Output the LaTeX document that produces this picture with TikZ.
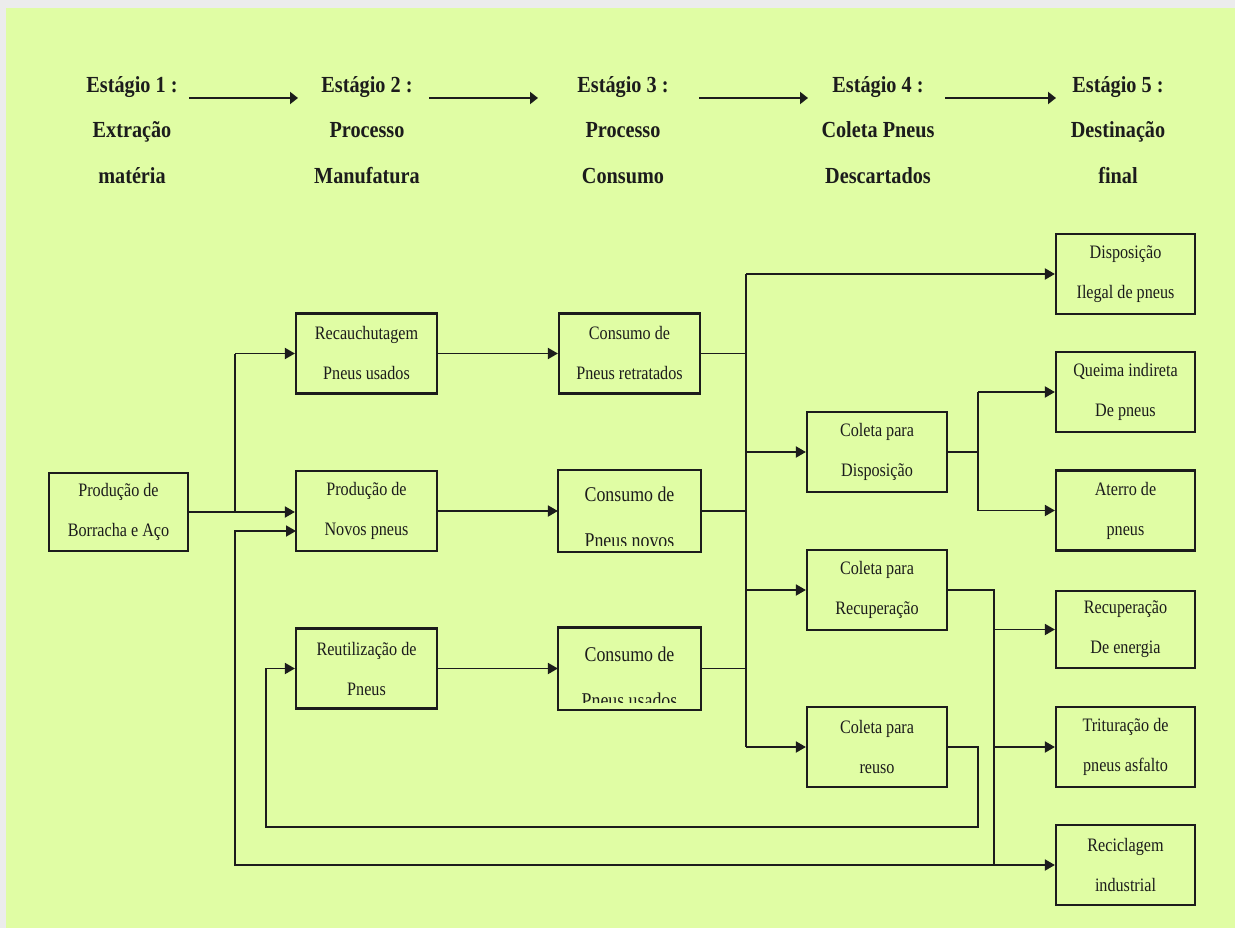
\documentclass[tikz,border=0pt]{standalone}
\usepackage{fontspec}
\setmainfont{Liberation Serif}[FakeStretch=0.85]
\newfontfamily\hdrfont{Liberation Serif}[FakeStretch=0.88]
\usetikzlibrary{arrows.meta}
\definecolor{bg}{RGB}{224,253,164}
\definecolor{ink}{RGB}{28,28,28}
\definecolor{edge}{RGB}{236,236,236}
\begin{document}
\begin{tikzpicture}[x=1pt,y=-1pt,
  box/.style={draw=ink, line width=2.2pt, minimum width=141pt, minimum height=80pt, inner sep=0pt, align=center,
              font=\fontsize{19}{40}\selectfont, text=ink},
  txt/.style={inner sep=0pt, anchor=base, font=\fontsize{21}{46}\selectfont, text=ink},
  hdr/.style={align=center, inner sep=0pt, font=\hdrfont\bfseries\fontsize{23}{45.5}\selectfont, text=ink},
  conn/.style={draw=ink, line width=1.8pt},
  arr/.style={conn, -{Triangle[length=10pt,width=11pt]}},
  harr/.style={draw=ink, line width=2.6pt, -{Triangle[length=8pt,width=12pt]}}]
\useasboundingbox (0,0) rectangle (1235,928);
\fill[edge] (0,0) rectangle (1235,928);
\fill[bg] (6,8) rectangle (1235,928);

% headers
\node[hdr] (h1) at (132,130) {Estágio 1 :\\Extração\\matéria};
\node[hdr] (h2) at (367,130) {Estágio 2 :\\Processo\\Manufatura};
\node[hdr] (h3) at (623,130) {Estágio 3 :\\Processo\\Consumo};
\node[hdr] (h4) at (878,130) {Estágio 4 :\\Coleta Pneus\\Descartados};
\node[hdr] (h5) at (1118,130) {Estágio 5 :\\Destinação\\final};
\coordinate (a1) at (189,98); \coordinate (b1) at (298,98);
\coordinate (a2) at (429,98); \coordinate (b2) at (538,98);
\coordinate (a3) at (699,98); \coordinate (b3) at (808,98);
\coordinate (a4) at (945,98); \coordinate (b4) at (1056,98);
\draw[harr] (a1) -- (b1);
\draw[harr] (a2) -- (b2);
\draw[harr] (a3) -- (b3);
\draw[harr] (a4) -- (b4);

% boxes
\node[box, minimum width=139pt, minimum height=78pt] (prod) at (118.5,512) {Produção de\\Borracha e Aço};
\node[box] (rec) at (366.5,353.5) {Recauchutagem\\Pneus usados};
\node[box] (nov) at (366.5,511) {Produção de\\Novos pneus};
\node[box] (reu) at (366.5,668.5) {Reutilização de\\Pneus};
\node[box] (cret) at (629.5,353.5) {Consumo de\\Pneus retratados};
\node[box, draw=none] (cnov) at (629.5,511) {};
\node[box, draw=none] (cusa) at (629.5,668.5) {};
\node[box, minimum width=140pt] (cdis) at (877,452) {Coleta para\\Disposição};
\node[box, minimum width=140pt] (crec) at (877,590) {Coleta para\\Recuperação};
\node[box, minimum width=140pt] (creu) at (877,747) {Coleta para\\reuso};
\node[box, minimum width=139pt] (dil) at (1125.5,274) {Disposição\\Ilegal de pneus};
\node[box, minimum width=139pt] (que) at (1125.5,392) {Queima indireta\\De pneus};
\node[box, minimum width=139pt] (ate) at (1125.5,510.5) {Aterro de\\pneus};
\node[box, minimum width=139pt, minimum height=77pt] (ren) at (1125.5,629.5) {Recuperação\\De energia};
\node[box, minimum width=139pt] (tri) at (1125.5,747) {Trituração de\\pneus asfalto};
\node[box, minimum width=139pt] (recl) at (1125.5,865) {Reciclagem\\industrial};

% clipped texts
\begin{scope}
\clip (cnov.north west) rectangle ([yshift=7pt]cnov.south east);
\node[txt] (cnovA) at (629.5,501) {Consumo de};
\node[txt] (cnovB) at (629.5,547) {Pneus novos};
\end{scope}
\draw[draw=ink, line width=2.2pt] (cnov.north west) rectangle (cnov.south east);
\begin{scope}
\clip (cusa.north west) rectangle ([yshift=7pt]cusa.south east);
\node[txt] (cusaA) at (629.5,661) {Consumo de};
\node[txt] (cusaB) at (629.5,707) {Pneus usados};
\end{scope}
\draw[draw=ink, line width=2.2pt] (cusa.north west) rectangle (cusa.south east);

% stage 1 -> 2
\coordinate (jA) at (235,512);
\draw[arr] (prod.east) -- (prod.east -| nov.west);
\draw[conn] (jA) -- (jA |- rec.west);
\draw[arr] (jA |- rec.west) -- (rec.west);

% stage 2 -> 3
\draw[arr] (rec.east) -- (cret.west);
\draw[arr] (nov.east) -- (cnov.west);
\draw[arr] (reu.east) -- (cusa.west);

% stage 3 -> 4/5
\coordinate (jC) at (746,0);
\draw[conn] (cret.east) -- (cret.east -| jC);
\draw[conn] (cnov.east) -- (cnov.east -| jC);
\draw[conn] (cusa.east) -- (cusa.east -| jC);
\draw[conn] (dil.west -| jC) -- (creu.west -| jC);
\draw[arr] (dil.west -| jC) -- (dil.west);
\draw[arr] (cdis.west -| jC) -- (cdis.west);
\draw[arr] (crec.west -| jC) -- (crec.west);
\draw[arr] (creu.west -| jC) -- (creu.west);

% coleta para disposicao
\coordinate (jD) at (978,0);
\draw[conn] (cdis.east) -- (cdis.east -| jD);
\draw[conn] (que.west -| jD) -- (ate.west -| jD);
\draw[arr] (que.west -| jD) -- (que.west);
\draw[arr] (ate.west -| jD) -- (ate.west);

% coleta para recuperacao
\coordinate (jB) at (994,865);
\draw[conn] (crec.east) -| (jB);
\draw[arr] (ren.west -| jB) -- (ren.west);
\draw[arr] (tri.west -| jB) -- (tri.west);
\draw[arr] (jB) -- (recl.west);

% loop back to novos pneus
\coordinate (lpB) at (235,531);
\coordinate (nvIn) at (296,531);
\draw[arr] (jB) -| (lpB) -- (nvIn);

% reuse loop
\coordinate (lpC) at (978,827);
\coordinate (lpD) at (266,668.5);
\draw[arr] (creu.east) -| (lpC) -| (lpD) -- (reu.west);
\end{tikzpicture}
\end{document}
